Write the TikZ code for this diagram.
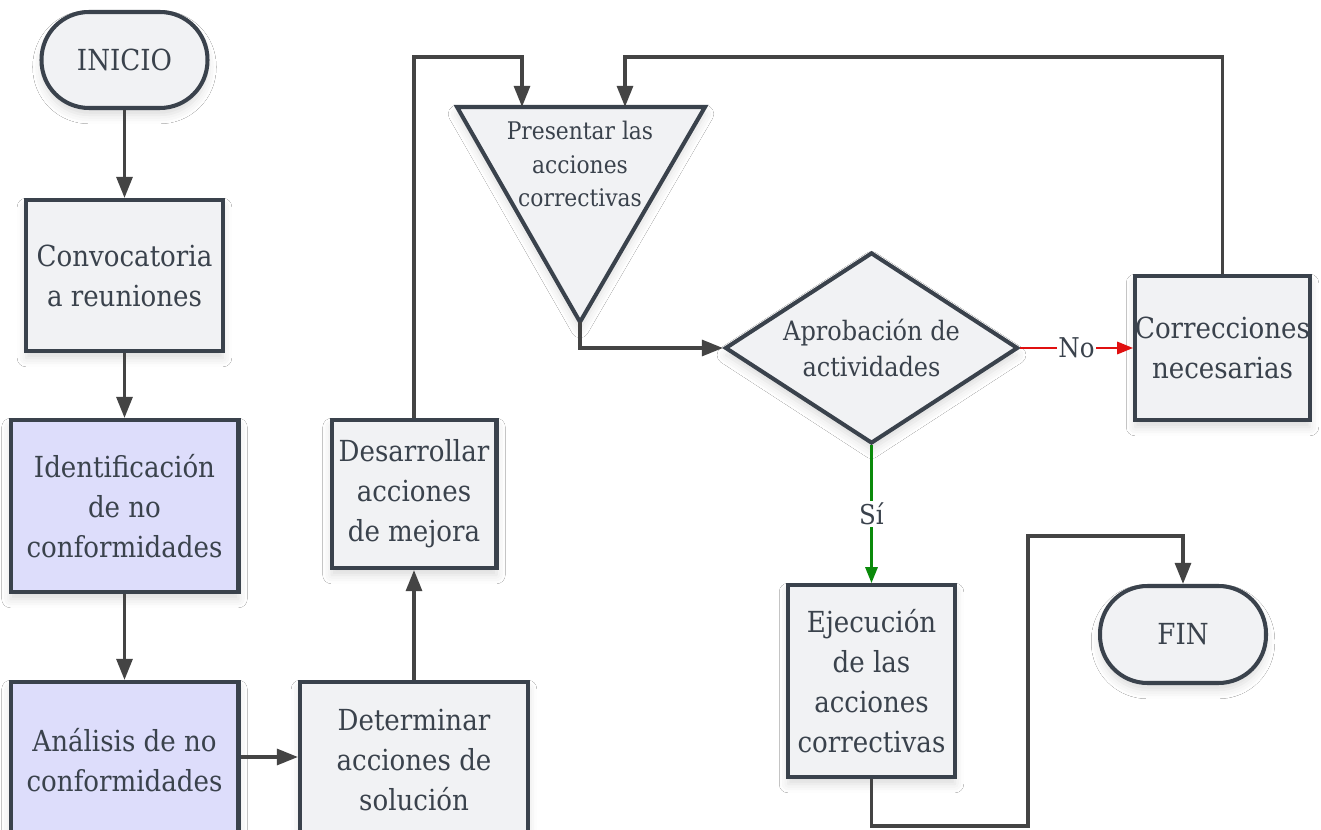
\documentclass[tikz,border=0pt]{standalone}
\usepackage{fontspec}
\newfontfamily\nf{DejaVu Serif Condensed}
\usetikzlibrary{arrows.meta,shapes.geometric,shadows.blur}
\definecolor{edge}{HTML}{3A424C}
\definecolor{boxfill}{HTML}{F1F2F4}
\definecolor{lav}{HTML}{DDDDFB}
\definecolor{wire}{HTML}{444444}
\definecolor{nored}{HTML}{E01010}
\definecolor{sigreen}{HTML}{0A8A0A}
\tikzset{
  shade/.style={blur shadow={shadow xshift=0pt,shadow yshift=-4pt,shadow blur radius=5pt,shadow opacity=14}},
  base/.style={draw=edge,line width=2.3pt,fill=boxfill,text=edge,align=center,inner sep=0pt,font=\nf\fontsize{16.5}{22.8}\selectfont,shade},
  stepbox/.style={base,rectangle},
  lavbox/.style={stepbox,fill=lav},
  terminal/.style={base,rectangle,rounded corners=0.95cm},
  decision/.style={base,diamond,aspect=1.53,font=\nf\fontsize{15.2}{21}\selectfont},
  conn/.style={draw=wire,line width=2pt,-{Triangle[length=12pt,width=9pt]}},
  nolink/.style={draw=nored,line width=1.2pt,-{Triangle[length=9pt,width=7pt]}},
  silink/.style={draw=sigreen,line width=1.2pt,-{Triangle[length=9pt,width=7pt]}},
  lbl/.style={fill=white,text=edge,inner sep=1pt,font=\nf\fontsize{15.5}{18}\selectfont}
}
\begin{document}
\begin{tikzpicture}[x=0.02cm,y=-0.02cm]
\useasboundingbox (0,0) rectangle (1321,830);
\clip (0,0) rectangle (1321,830);
\fill[white] (0,0) rectangle (1321,830);

% process boxes and terminals
\node[terminal,minimum width=3.32cm,minimum height=1.92cm] (inicio) at (124.5,60) {INICIO};
\node[stepbox,minimum width=3.94cm,minimum height=3.02cm] (conv) at (124.5,275.5) {Convocatoria\\a reuniones};
\node[lavbox,minimum width=4.56cm,minimum height=3.44cm] (ident) at (124.5,506) {Identificación\\de no\\conformidades};
\node[lavbox,minimum width=4.56cm,minimum height=3.12cm] (anal) at (124.5,760) {Análisis de no\\conformidades};
\node[stepbox,minimum width=4.56cm,minimum height=3.12cm] (det) at (414,760) {Determinar\\acciones de\\solución};
\node[stepbox,minimum width=3.3cm,minimum height=2.96cm] (des) at (414,494) {Desarrollar\\acciones\\de mejora};

% inverted triangle
\coordinate (tl) at (457,107);
\coordinate (tr) at (705,107);
\coordinate (apex) at (580,322);
\coordinate (t1) at (522,107);
\coordinate (t2) at (625,107);
\coordinate (ytop) at (0,57);
\filldraw[draw=edge,fill=boxfill,line width=2.3pt,line join=miter,shade] (tl) -- (tr) -- (apex) -- cycle;
\node[align=center,text=edge,font=\nf\fontsize{13.8}{19.3}\selectfont,inner sep=0pt] (pres) at (580,164) {Presentar las\\acciones\\correctivas};

\node[decision,minimum width=5.86cm,minimum height=3.82cm] (apro) at (871.5,348) {Aprobación de\\actividades};
\node[stepbox,minimum width=3.38cm,minimum height=2.88cm] (corr) at (1222.5,348) {Correcciones\\necesarias};
\node[stepbox,minimum width=3.34cm,minimum height=3.84cm] (ejec) at (871.5,681) {Ejecución\\de las\\acciones\\correctivas};
\node[terminal,minimum width=3.32cm,minimum height=1.94cm] (fin) at (1183,634.5) {FIN};

% connectors
\draw[conn] (inicio.south) -- (conv.north);
\draw[conn] (conv.south) -- (ident.north);
\draw[conn] (ident.south) -- (anal.north);
\draw[conn] (anal.east |- 0,757) -- (det.west |- 0,757);
\draw[conn] (det.north) -- (des.south);
\draw[conn] (des.north) -- (des.north |- ytop) -| (t1);
\draw[conn] (corr.north) -- (corr.north |- ytop) -| (t2);
\draw[conn] (apex) |- (apro.west);
\draw[nolink] (apro.east) -- node[lbl] {No} (corr.west);
\draw[silink] (apro.south) -- node[lbl] {Sí} (ejec.north);
\coordinate (b1) at (1028,826);
\coordinate (b2) at (1028,536);
\draw[conn] (ejec.south) |- (b1) -- (b2) -| (fin.north);
\end{tikzpicture}
\end{document}
